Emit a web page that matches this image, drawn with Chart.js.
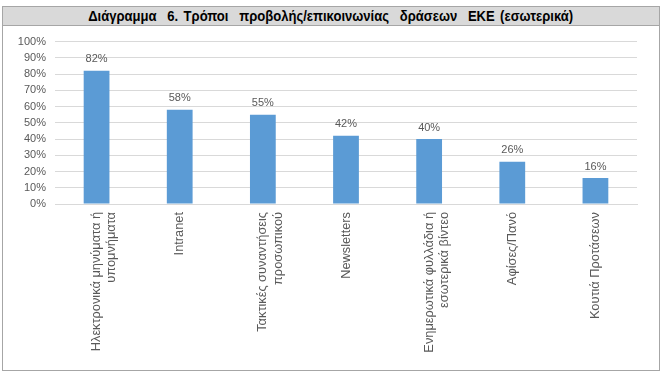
<!DOCTYPE html>
<html>
<head>
<meta charset="utf-8">
<script src="https://cdn.jsdelivr.net/npm/chart.js@4"></script>
<style>
  body { margin: 0; background: #fff; }
  #box {
    position: absolute; left: 2px; top: 6px; width: 656px; height: 363px;
    border: 1px solid #a6a6a6; background: #fff;
  }
  #title {
    height: 18px; background: #d9d9d9; border-bottom: 1px solid #a6a6a6;
    font-family: "Liberation Sans", sans-serif;
    font-weight: bold; font-size: 15px; line-height: 18px; text-align: center; color: #000;
    word-spacing: 2px; overflow: hidden;
  }
  #title span { display: inline-block; transform: scaleX(0.87); white-space: nowrap; }
  #wrap { position: relative; width: 656px; height: 344px; }
</style>
</head>
<body>
<div id="box">
  <div id="title"><span>Διάγραμμα &nbsp;6. Τρόποι &nbsp;προβολής/επικοινωνίας &nbsp;δράσεων &nbsp;ΕΚΕ (εσωτερικά)</span></div>
  <div id="wrap"><canvas id="chart"></canvas></div>
</div>
<script>
const categories = [
  ["Ηλεκτρονικά μηνύματα ή", "υπομνήματα"],
  "Intranet",
  ["Τακτικές συναντήσεις", "προσωπικού"],
  "Newsletters",
  ["Ενημερωτικά φυλλάδια ή", "εσωτερικά βίντεο"],
  "Αφίσες/Πανό",
  "Κουτιά Προτάσεων"
];
const values = [82, 58, 55, 42, 40, 26, 16];
const yTicks = [0, 10, 20, 30, 40, 50, 60, 70, 80, 90, 100];

const textColor = "#595959";
const fontFamily = "'Liberation Sans', sans-serif";

// labels above the bars
const barLabels = {
  id: "barLabels",
  afterDatasetsDraw(chart) {
    const ctx = chart.ctx;
    const meta = chart.getDatasetMeta(0);
    ctx.save();
    ctx.font = "11px " + fontFamily;
    ctx.fillStyle = textColor;
    ctx.textAlign = "center";
    ctx.textBaseline = "bottom";
    meta.data.forEach((bar, i) => {
      ctx.fillText(values[i] + "%", bar.x, bar.y - 6);
    });
    ctx.restore();
  }
};

new Chart(document.getElementById("chart"), {
  type: "bar",
  data: {
    labels: categories,
    datasets: [{
      data: values,
      backgroundColor: "#5b9bd5",
      categoryPercentage: 1,
      barPercentage: 0.31
    }]
  },
  options: {
    responsive: true,
    maintainAspectRatio: false,
    animation: false,
    layout: { padding: { left: 0, top: 13, right: 22, bottom: 0 } },
    plugins: { legend: { display: false }, tooltip: { enabled: false } },
    scales: {
      y: {
        min: 0,
        max: 100,
        afterFit: (scale) => { scale.width = 52; },
        afterBuildTicks: (scale) => { scale.ticks = yTicks.map(v => ({ value: v })); },
        ticks: {
          callback: (v) => v + "%",
          color: textColor,
          font: { family: fontFamily, size: 11 },
          padding: 9
        },
        grid: { color: "#d9d9d9", drawTicks: false },
        border: { display: false }
      },
      x: {
        afterFit: (scale) => { scale.height = 166; },
        ticks: {
          autoSkip: false,
          minRotation: 90,
          maxRotation: 90,
          color: textColor,
          font: { family: fontFamily, size: 12.8, lineHeight: 1.2 },
          padding: 8
        },
        grid: { display: false, drawTicks: false },
        border: { color: "#d9d9d9" }
      }
    }
  },
  plugins: [barLabels]
});
</script>
</body>
</html>
